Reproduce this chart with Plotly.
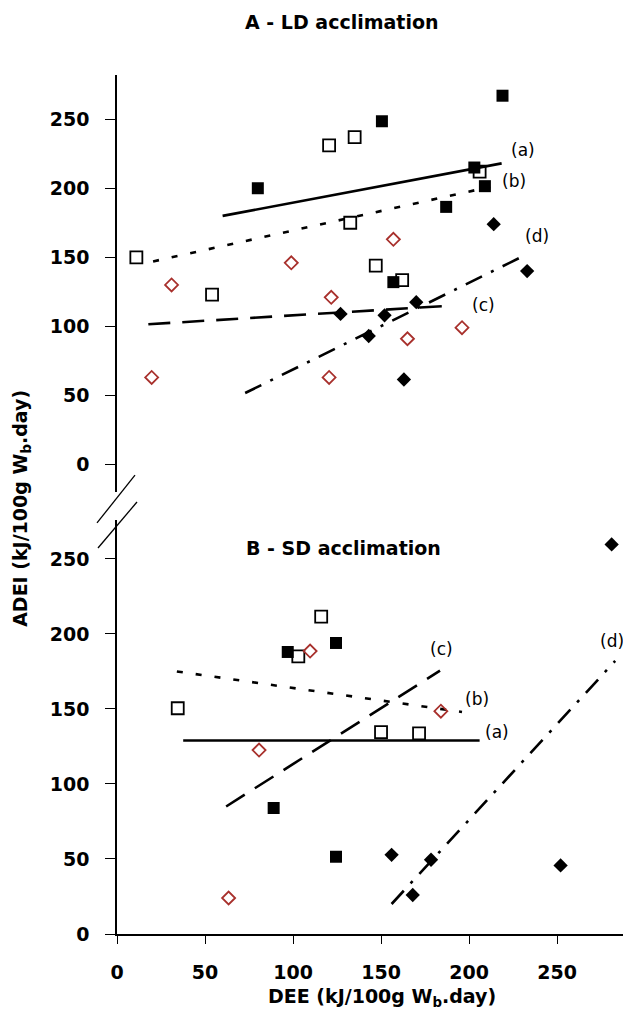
import plotly.graph_objects as go

# ---------------- DATA ----------------
# Panel A - LD acclimation
a_sq_filled_x = [80, 150.5, 219, 203, 209, 187, 157]
a_sq_filled_y = [200, 248.5, 267, 215, 201.5, 186.5, 132]
a_sq_open_x = [11, 54, 120.5, 135, 132.5, 147, 162, 206]
a_sq_open_y = [150, 123, 231, 237, 175, 144, 133.5, 212]
a_dia_open_x = [31, 99, 157, 121.7, 19.7, 120.5, 165, 196]
a_dia_open_y = [130, 146, 163, 121, 63, 63, 91, 99]
a_dia_filled_x = [127, 152, 170, 143, 163, 233, 214]
a_dia_filled_y = [109, 108, 117.5, 93, 61.5, 140, 174]

a_line_labels = ["(a)", "(b)", "(c)", "(d)"]
a_line_x = [[60, 218.5], [20.5, 212], [17.8, 190], [72.8, 231]]
a_line_y = [[180, 218], [147, 201], [101.5, 115], [51.7, 151]]

# Panel B - SD acclimation
b_sq_filled_x = [97, 124.4, 89, 124.4]
b_sq_filled_y = [188, 194, 84, 51.5]
b_sq_open_x = [116, 103, 34.5, 150, 171.6]
b_sq_open_y = [211.6, 185, 150.5, 134.6, 133.8]
b_dia_open_x = [109.7, 80.7, 184, 63.4]
b_dia_open_y = [188.6, 122.6, 148.5, 24]
b_dia_filled_x = [281, 156, 178.4, 168, 252]
b_dia_filled_y = [259.7, 52.8, 49.5, 26, 45.7]

b_line_labels = ["(a)", "(b)", "(c)", "(d)"]
b_line_x = [[37.6, 206], [34, 196], [62, 183.5], [156, 283]]
b_line_y = [[129, 129], [175, 148], [85, 175.5], [20, 182]]

y_ticks = [0, 50, 100, 150, 200, 250]
x_ticks = [0, 50, 100, 150, 200, 250]

# ---------------- STYLE ----------------
FONT = "DejaVu Sans"
RED = "#a8302c"
dashes = ["solid", "6px,13px", "22px,12px", "18px,10px,3px,10px"]
a_label_shift = [(21, 13), (24, 6), (32, 1), (13, 20)]
b_label_shift = [(17, 8), (15, 13), (1, 22), (-3, 20)]

fig = go.Figure()


def add_panel(xa, ya, sqf, sqo, dio, dif, lx, ly, labels, shifts):
    # regression lines
    for i in range(4):
        fig.add_trace(go.Scatter(x=lx[i], y=ly[i], mode="lines", xaxis=xa, yaxis=ya,
                                 line=dict(color="black", width=2.6, dash=dashes[i]),
                                 showlegend=False, hoverinfo="skip"))
    fig.add_trace(go.Scatter(x=sqf[0], y=sqf[1], mode="markers", xaxis=xa, yaxis=ya,
                             marker=dict(symbol="square", size=12, color="black"),
                             showlegend=False))
    fig.add_trace(go.Scatter(x=sqo[0], y=sqo[1], mode="markers", xaxis=xa, yaxis=ya,
                             marker=dict(symbol="square-open", size=12, color="black",
                                         line=dict(width=1.8)),
                             showlegend=False))
    fig.add_trace(go.Scatter(x=dio[0], y=dio[1], mode="markers", xaxis=xa, yaxis=ya,
                             marker=dict(symbol="diamond-open", size=10, color=RED,
                                         line=dict(width=1.8)),
                             showlegend=False))
    fig.add_trace(go.Scatter(x=dif[0], y=dif[1], mode="markers", xaxis=xa, yaxis=ya,
                             marker=dict(symbol="diamond", size=11, color="black"),
                             showlegend=False))
    for i in range(4):
        fig.add_annotation(x=lx[i][-1], y=ly[i][-1], xref=xa, yref=ya, text=labels[i],
                           showarrow=False, xshift=shifts[i][0], yshift=shifts[i][1],
                           font=dict(family=FONT, size=17, color="black"))


add_panel("x2", "y2", (a_sq_filled_x, a_sq_filled_y), (a_sq_open_x, a_sq_open_y),
          (a_dia_open_x, a_dia_open_y), (a_dia_filled_x, a_dia_filled_y),
          a_line_x, a_line_y, a_line_labels, a_label_shift)
add_panel("x", "y", (b_sq_filled_x, b_sq_filled_y), (b_sq_open_x, b_sq_open_y),
          (b_dia_open_x, b_dia_open_y), (b_dia_filled_x, b_dia_filled_y),
          b_line_x, b_line_y, b_line_labels, b_label_shift)

tickfont = dict(family=FONT, size=19, color="black", weight="bold")

fig.update_layout(
    width=623, height=1016,
    margin=dict(l=109, r=0, t=67, b=90),
    plot_bgcolor="white", paper_bgcolor="white",
    font=dict(family=FONT, color="black"),
    showlegend=False,
    xaxis=dict(domain=[0, 1], range=[0, 292], anchor="y", tickvals=x_ticks,
               showline=True, linecolor="black", linewidth=1.5, ticks="outside",
               ticklen=8, tickwidth=1.3, tickcolor="black", showgrid=False, zeroline=False,
               tickfont=tickfont, ticklabelstandoff=12),
    yaxis=dict(domain=[0, 0.482], range=[0, 276], anchor="x", tickvals=y_ticks,
               showline=True, linecolor="black", linewidth=1.5, ticks="outside",
               ticklen=10, tickwidth=1.3, tickcolor="black", showgrid=False, zeroline=False,
               tickfont=tickfont, ticklabelstandoff=12),
    xaxis2=dict(domain=[0, 1], range=[0, 292], anchor="y2", matches="x", visible=False),
    yaxis2=dict(domain=[0.5145, 1], range=[-20, 282], anchor="x2", tickvals=y_ticks,
                showline=True, linecolor="black", linewidth=1.5, ticks="outside",
                ticklen=10, tickwidth=1.3, tickcolor="black", showgrid=False, zeroline=False,
                tickfont=tickfont, ticklabelstandoff=12),
)

# axis break marks
for (x0, y0, x1, y1) in [(-0.0389, 0.4785, 0.035, 0.5343), (-0.037, 0.4494, 0.0389, 0.5029)]:
    fig.add_shape(type="line", xref="paper", yref="paper", x0=x0, y0=y0, x1=x1, y1=y1,
                  line=dict(color="black", width=1.3))

title_font = dict(family=FONT, size=19, color="black", weight="bold")
fig.add_annotation(text="A - LD acclimation", xref="paper", yref="paper", x=0.436, y=1.0617,
                   showarrow=False, font=title_font, xanchor="center", yanchor="middle")
fig.add_annotation(text="B - SD acclimation", xref="paper", yref="paper", x=0.44, y=0.449,
                   showarrow=False, font=title_font, xanchor="center", yanchor="middle")
fig.add_annotation(text="DEE (kJ/100g W<sub>b</sub>.day)", xref="paper", yref="paper",
                   x=0.5156, y=-0.0745, showarrow=False, font=title_font,
                   xanchor="center", yanchor="middle")
fig.add_annotation(text="ADEI (kJ/100g W<sub>b</sub>.day)", xref="paper", yref="paper",
                   x=-0.185, y=0.496, showarrow=False, font=title_font, textangle=-90,
                   xanchor="center", yanchor="middle")

fig.write_html("out.html")
